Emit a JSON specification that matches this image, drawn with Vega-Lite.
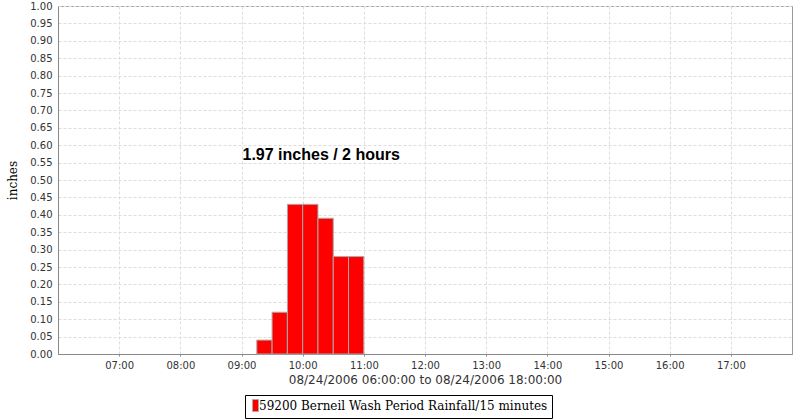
{
  "$schema": "https://vega.github.io/schema/vega-lite/v6.json",
  "width": 734,
  "height": 348,
  "autosize": "none",
  "padding": {"left": 58, "top": 6, "right": 8, "bottom": 66},
  "background": "white",
  "config": {
    "view": {"stroke": "#999999", "strokeWidth": 1},
    "axis": {
      "labelFont": "DejaVu Sans",
      "labelFontSize": 10,
      "labelColor": "#333333",
      "labelOverlap": false,
      "domainColor": "#888888",
      "tickColor": "#888888",
      "tickSize": 2,
      "gridColor": "#dddddd",
      "gridDash": [3, 2],
      "gridWidth": 1
    }
  },
  "datasets": {
    "rain": [
      {"start": "2006-08-24T09:15:00", "end": "2006-08-24T09:30:00", "inches": 0.04, "series": "59200 Berneil Wash Period Rainfall/15 minutes"},
      {"start": "2006-08-24T09:30:00", "end": "2006-08-24T09:45:00", "inches": 0.12, "series": "59200 Berneil Wash Period Rainfall/15 minutes"},
      {"start": "2006-08-24T09:45:00", "end": "2006-08-24T10:00:00", "inches": 0.43, "series": "59200 Berneil Wash Period Rainfall/15 minutes"},
      {"start": "2006-08-24T10:00:00", "end": "2006-08-24T10:15:00", "inches": 0.43, "series": "59200 Berneil Wash Period Rainfall/15 minutes"},
      {"start": "2006-08-24T10:15:00", "end": "2006-08-24T10:30:00", "inches": 0.39, "series": "59200 Berneil Wash Period Rainfall/15 minutes"},
      {"start": "2006-08-24T10:30:00", "end": "2006-08-24T10:45:00", "inches": 0.28, "series": "59200 Berneil Wash Period Rainfall/15 minutes"},
      {"start": "2006-08-24T10:45:00", "end": "2006-08-24T11:00:00", "inches": 0.28, "series": "59200 Berneil Wash Period Rainfall/15 minutes"}
    ],
    "note": [
      {"start": "2006-08-24T09:00:00", "inches": 0.572, "label": "1.97 inches / 2 hours"}
    ]
  },
  "encoding": {
    "x": {
      "field": "start",
      "type": "temporal",
      "scale": {"domain": [{"year": 2006, "month": 8, "date": 24, "hours": 6}, {"year": 2006, "month": 8, "date": 24, "hours": 18}], "nice": false},
      "axis": {
        "format": "%H:%M",
        "values": [
          {"year": 2006, "month": 8, "date": 24, "hours": 7},
          {"year": 2006, "month": 8, "date": 24, "hours": 8},
          {"year": 2006, "month": 8, "date": 24, "hours": 9},
          {"year": 2006, "month": 8, "date": 24, "hours": 10},
          {"year": 2006, "month": 8, "date": 24, "hours": 11},
          {"year": 2006, "month": 8, "date": 24, "hours": 12},
          {"year": 2006, "month": 8, "date": 24, "hours": 13},
          {"year": 2006, "month": 8, "date": 24, "hours": 14},
          {"year": 2006, "month": 8, "date": 24, "hours": 15},
          {"year": 2006, "month": 8, "date": 24, "hours": 16},
          {"year": 2006, "month": 8, "date": 24, "hours": 17}
        ],
        "title": "08/24/2006 06:00:00 to 08/24/2006 18:00:00",
        "titleFont": "DejaVu Sans",
        "titleFontSize": 12,
        "titleFontWeight": "normal",
        "titleColor": "#333333",
        "titlePadding": 4,
        "labelPadding": 4
      }
    },
    "y": {
      "field": "inches",
      "type": "quantitative",
      "scale": {"domain": [0, 1], "nice": false},
      "axis": {
        "values": [0, 0.05, 0.1, 0.15, 0.2, 0.25, 0.3, 0.35, 0.4, 0.45, 0.5, 0.55, 0.6, 0.65, 0.7, 0.75, 0.8, 0.85, 0.9, 0.95, 1.0],
        "format": ".2f",
        "ticks": false,
        "labelPadding": 6,
        "title": "inches",
        "titleFont": "DejaVu Serif",
        "titleFontSize": 12,
        "titleFontWeight": "normal",
        "titleColor": "#000000",
        "titlePadding": 10
      }
    }
  },
  "layer": [
    {
      "data": {"name": "rain"},
      "mark": {"type": "rect", "stroke": "#aaaaaa", "strokeWidth": 1},
      "encoding": {
        "x2": {"field": "end"},
        "y2": {"datum": 0},
        "color": {
          "field": "series",
          "type": "nominal",
          "scale": {"range": ["#ff0000"]},
          "legend": {
            "title": null,
            "orient": "none",
            "legendX": 187,
            "legendY": 389,
            "strokeColor": "#000000",
            "fillColor": "white",
            "padding": 4,
            "symbolType": "M-0.5,-1H0.5V1H-0.5Z",
            "symbolSize": 144,
            "symbolStrokeColor": "#aaaaaa",
            "symbolStrokeWidth": 1,
            "labelFont": "DejaVu Serif",
            "labelFontSize": 12,
            "labelColor": "#000000",
            "labelOffset": -3,
            "labelLimit": 400
          }
        }
      }
    },
    {
      "data": {"name": "note"},
      "mark": {"type": "text", "align": "left", "baseline": "middle", "font": "Liberation Sans", "fontSize": 16, "fontWeight": "bold", "color": "#000000", "dx": 1},
      "encoding": {
        "text": {"field": "label"}
      }
    }
  ]
}
